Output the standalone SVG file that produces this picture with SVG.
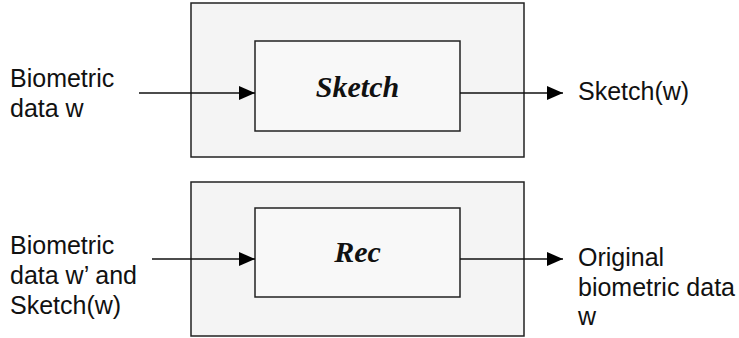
<svg xmlns="http://www.w3.org/2000/svg" width="739" height="338" viewBox="0 0 739 338">
  <style>
    .outer { fill: #f4f4f4; stroke: #222; stroke-width: 1.5; }
    .inner { fill: #f8f8f8; stroke: #222; stroke-width: 1.5; }
    .label { font-family: "Liberation Sans", Arial, sans-serif; font-size: 25px; fill: #111; }
    .title { font-family: "Liberation Serif", "Times New Roman", serif; font-size: 30px; font-weight: bold; font-style: italic; fill: #111; text-anchor: middle; }
    .edge { stroke: #111; stroke-width: 1.5; fill: none; marker-end: url(#arrow); }
  </style>
  <defs>
    <marker id="arrow" markerWidth="16" markerHeight="14" refX="16" refY="7" orient="auto" markerUnits="userSpaceOnUse">
      <path d="M0,0 L16,7 L0,14 Z" fill="#000"/>
    </marker>
  </defs>
  <rect width="739" height="338" fill="#fff"/>

  <!-- Sketch stage -->
  <g id="sketch-frame">
    <rect class="outer" x="191" y="3" width="333" height="154"/>
  </g>
  <g id="sketch">
    <rect class="inner" x="255" y="41" width="205" height="90"/>
    <text class="title" x="357.5" y="97">Sketch</text>
  </g>
  <g id="input-w">
    <text class="label" x="10" y="87">Biometric</text>
    <text class="label" x="10" y="117">data w</text>
  </g>
  <g id="output-sketch">
    <text class="label" x="578" y="100">Sketch(w)</text>
  </g>

  <!-- Rec stage -->
  <g id="rec-frame">
    <rect class="outer" x="191" y="182" width="333" height="154"/>
  </g>
  <g id="rec">
    <rect class="inner" x="255" y="208" width="205" height="89"/>
    <text class="title" x="357.5" y="262">Rec</text>
  </g>
  <g id="input-w-prime">
    <text class="label" x="10" y="254">Biometric</text>
    <text class="label" x="10" y="284">data w’ and</text>
    <text class="label" x="10" y="314">Sketch(w)</text>
  </g>
  <g id="output-original">
    <text class="label" x="578" y="266">Original</text>
    <text class="label" x="578" y="296">biometric data</text>
    <text class="label" x="578" y="325">w</text>
  </g>

  <g id="connectors">
    <line class="edge" x1="139" y1="93" x2="255" y2="93"/>
    <line class="edge" x1="460" y1="93" x2="563" y2="93"/>
    <line class="edge" x1="152" y1="259" x2="255" y2="259"/>
    <line class="edge" x1="460" y1="259" x2="563" y2="259"/>
  </g>
</svg>
